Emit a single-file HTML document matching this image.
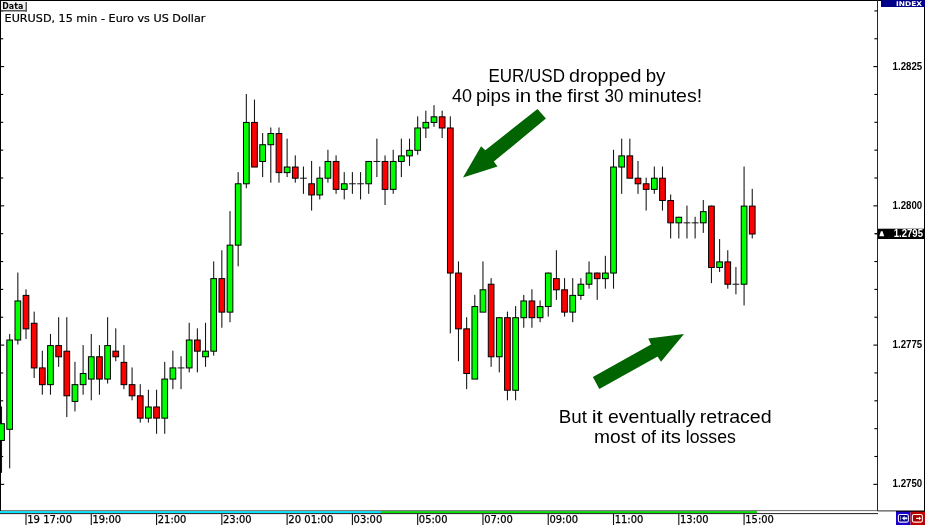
<!DOCTYPE html>
<html lang="en"><head><meta charset="utf-8"><title>EURUSD, 15 min - Euro vs US Dollar</title>
<style>
html,body{margin:0;padding:0;background:#fff;}
body{width:925px;height:525px;overflow:hidden;position:relative;}
svg{position:absolute;left:0;top:0;display:block;}
text{font-family:"Liberation Sans","DejaVu Sans",sans-serif;}
.ax{font-family:"DejaVu Sans","Liberation Sans",sans-serif;font-size:9.8px;fill:#000;stroke:#000;stroke-width:0.25px;}
.pr{font-family:"Liberation Sans","DejaVu Sans",sans-serif;font-size:10.3px;font-weight:bold;fill:#000;}
.note{font-family:"Liberation Sans","DejaVu Sans",sans-serif;font-size:18.9px;fill:#000;}
</style></head><body>
<svg width="925" height="525" viewBox="0 0 925 525">
<rect x="0" y="0" width="925" height="525" fill="#ffffff"/>
<g id="frame" shape-rendering="crispEdges">
<rect x="0" y="0" width="925" height="1" fill="#000"/>
<rect x="0" y="0" width="1" height="511" fill="#000"/>
<rect x="924" y="0" width="1" height="512" fill="#000"/>
<rect x="877" y="0" width="1" height="514" fill="#262626"/>
</g>
<g id="ticks">
<rect x="874.4" y="10.35" width="2.9" height="1.1" fill="#000"/>
<rect x="1" y="10.35" width="2.2" height="1.1" fill="#000"/>
<rect x="874.4" y="38.20" width="2.9" height="1.1" fill="#000"/>
<rect x="1" y="38.20" width="2.2" height="1.1" fill="#000"/>
<rect x="873.4" y="66.05" width="3.9" height="1.1" fill="#000"/>
<rect x="1" y="66.05" width="3.2" height="1.1" fill="#000"/>
<rect x="874.4" y="93.90" width="2.9" height="1.1" fill="#000"/>
<rect x="1" y="93.90" width="2.2" height="1.1" fill="#000"/>
<rect x="874.4" y="121.75" width="2.9" height="1.1" fill="#000"/>
<rect x="1" y="121.75" width="2.2" height="1.1" fill="#000"/>
<rect x="874.4" y="149.60" width="2.9" height="1.1" fill="#000"/>
<rect x="1" y="149.60" width="2.2" height="1.1" fill="#000"/>
<rect x="874.4" y="177.45" width="2.9" height="1.1" fill="#000"/>
<rect x="1" y="177.45" width="2.2" height="1.1" fill="#000"/>
<rect x="873.4" y="205.30" width="3.9" height="1.1" fill="#000"/>
<rect x="1" y="205.30" width="3.2" height="1.1" fill="#000"/>
<rect x="874.4" y="233.15" width="2.9" height="1.1" fill="#000"/>
<rect x="1" y="233.15" width="2.2" height="1.1" fill="#000"/>
<rect x="874.4" y="261.00" width="2.9" height="1.1" fill="#000"/>
<rect x="1" y="261.00" width="2.2" height="1.1" fill="#000"/>
<rect x="874.4" y="288.85" width="2.9" height="1.1" fill="#000"/>
<rect x="1" y="288.85" width="2.2" height="1.1" fill="#000"/>
<rect x="874.4" y="316.70" width="2.9" height="1.1" fill="#000"/>
<rect x="1" y="316.70" width="2.2" height="1.1" fill="#000"/>
<rect x="873.4" y="344.55" width="3.9" height="1.1" fill="#000"/>
<rect x="1" y="344.55" width="3.2" height="1.1" fill="#000"/>
<rect x="874.4" y="372.40" width="2.9" height="1.1" fill="#000"/>
<rect x="1" y="372.40" width="2.2" height="1.1" fill="#000"/>
<rect x="874.4" y="400.25" width="2.9" height="1.1" fill="#000"/>
<rect x="1" y="400.25" width="2.2" height="1.1" fill="#000"/>
<rect x="874.4" y="428.10" width="2.9" height="1.1" fill="#000"/>
<rect x="1" y="428.10" width="2.2" height="1.1" fill="#000"/>
<rect x="874.4" y="455.95" width="2.9" height="1.1" fill="#000"/>
<rect x="1" y="455.95" width="2.2" height="1.1" fill="#000"/>
<rect x="873.4" y="483.80" width="3.9" height="1.1" fill="#000"/>
<rect x="1" y="483.80" width="3.2" height="1.1" fill="#000"/>
</g>
<g id="candles">
<rect x="0.99" y="406.48" width="1.06" height="66.36" fill="#141414"/>
<rect x="-1.33" y="423.72" width="5.7" height="16.74" fill="#00ff00" stroke="#000" stroke-width="1"/>
<rect x="9.15" y="333.94" width="1.06" height="134.44" fill="#141414"/>
<rect x="6.83" y="340.02" width="5.7" height="89.28" fill="#00ff00" stroke="#000" stroke-width="1"/>
<rect x="17.31" y="272.56" width="1.06" height="71.94" fill="#141414"/>
<rect x="14.99" y="300.96" width="5.7" height="39.06" fill="#00ff00" stroke="#000" stroke-width="1"/>
<rect x="25.47" y="289.30" width="1.06" height="49.62" fill="#141414"/>
<rect x="23.15" y="295.38" width="5.7" height="33.48" fill="#ff0000" stroke="#000" stroke-width="1"/>
<rect x="33.63" y="311.62" width="1.06" height="66.36" fill="#141414"/>
<rect x="31.31" y="323.28" width="5.7" height="44.64" fill="#ff0000" stroke="#000" stroke-width="1"/>
<rect x="41.79" y="350.68" width="1.06" height="44.04" fill="#141414"/>
<rect x="39.47" y="367.92" width="5.7" height="16.74" fill="#ff0000" stroke="#000" stroke-width="1"/>
<rect x="49.95" y="333.94" width="1.06" height="60.78" fill="#141414"/>
<rect x="47.63" y="345.60" width="5.7" height="39.06" fill="#00ff00" stroke="#000" stroke-width="1"/>
<rect x="58.11" y="317.20" width="1.06" height="49.62" fill="#141414"/>
<rect x="55.79" y="345.60" width="5.7" height="11.16" fill="#ff0000" stroke="#000" stroke-width="1"/>
<rect x="66.27" y="317.20" width="1.06" height="99.84" fill="#141414"/>
<rect x="63.95" y="351.18" width="5.7" height="44.64" fill="#ff0000" stroke="#000" stroke-width="1"/>
<rect x="74.43" y="361.84" width="1.06" height="49.62" fill="#141414"/>
<rect x="72.11" y="384.66" width="5.7" height="16.74" fill="#00ff00" stroke="#000" stroke-width="1"/>
<rect x="82.59" y="345.10" width="1.06" height="49.62" fill="#141414"/>
<rect x="80.27" y="373.50" width="5.7" height="11.16" fill="#00ff00" stroke="#000" stroke-width="1"/>
<rect x="90.75" y="333.94" width="1.06" height="66.36" fill="#141414"/>
<rect x="88.43" y="356.76" width="5.7" height="22.32" fill="#00ff00" stroke="#000" stroke-width="1"/>
<rect x="98.91" y="345.10" width="1.06" height="49.62" fill="#141414"/>
<rect x="96.59" y="356.76" width="5.7" height="22.32" fill="#ff0000" stroke="#000" stroke-width="1"/>
<rect x="107.07" y="317.20" width="1.06" height="66.36" fill="#141414"/>
<rect x="104.75" y="345.60" width="5.7" height="33.48" fill="#00ff00" stroke="#000" stroke-width="1"/>
<rect x="115.23" y="328.36" width="1.06" height="32.88" fill="#141414"/>
<rect x="112.91" y="351.18" width="5.7" height="5.58" fill="#ff0000" stroke="#000" stroke-width="1"/>
<rect x="123.39" y="345.10" width="1.06" height="44.04" fill="#141414"/>
<rect x="121.07" y="362.34" width="5.7" height="22.32" fill="#ff0000" stroke="#000" stroke-width="1"/>
<rect x="131.55" y="367.42" width="1.06" height="32.88" fill="#141414"/>
<rect x="129.23" y="384.66" width="5.7" height="11.16" fill="#ff0000" stroke="#000" stroke-width="1"/>
<rect x="139.71" y="384.16" width="1.06" height="38.46" fill="#141414"/>
<rect x="137.39" y="395.82" width="5.7" height="22.32" fill="#ff0000" stroke="#000" stroke-width="1"/>
<rect x="147.87" y="389.74" width="1.06" height="32.88" fill="#141414"/>
<rect x="145.55" y="406.98" width="5.7" height="11.16" fill="#00ff00" stroke="#000" stroke-width="1"/>
<rect x="156.03" y="389.74" width="1.06" height="44.04" fill="#141414"/>
<rect x="153.71" y="406.98" width="5.7" height="11.16" fill="#ff0000" stroke="#000" stroke-width="1"/>
<rect x="164.19" y="361.84" width="1.06" height="71.94" fill="#141414"/>
<rect x="161.87" y="379.08" width="5.7" height="39.06" fill="#00ff00" stroke="#000" stroke-width="1"/>
<rect x="172.35" y="350.68" width="1.06" height="38.46" fill="#141414"/>
<rect x="170.03" y="367.92" width="5.7" height="11.16" fill="#00ff00" stroke="#000" stroke-width="1"/>
<rect x="180.51" y="356.26" width="1.06" height="32.88" fill="#141414"/>
<rect x="177.64" y="367.42" width="6.8" height="1" fill="#141414"/>
<rect x="188.67" y="322.78" width="1.06" height="49.62" fill="#141414"/>
<rect x="186.35" y="340.02" width="5.7" height="27.90" fill="#00ff00" stroke="#000" stroke-width="1"/>
<rect x="196.83" y="328.36" width="1.06" height="44.04" fill="#141414"/>
<rect x="194.51" y="340.02" width="5.7" height="11.16" fill="#ff0000" stroke="#000" stroke-width="1"/>
<rect x="204.99" y="322.78" width="1.06" height="44.04" fill="#141414"/>
<rect x="202.67" y="351.18" width="5.7" height="5.58" fill="#00ff00" stroke="#000" stroke-width="1"/>
<rect x="213.15" y="261.40" width="1.06" height="94.26" fill="#141414"/>
<rect x="210.83" y="278.64" width="5.7" height="72.54" fill="#00ff00" stroke="#000" stroke-width="1"/>
<rect x="221.31" y="250.24" width="1.06" height="77.52" fill="#141414"/>
<rect x="218.99" y="278.64" width="5.7" height="33.48" fill="#ff0000" stroke="#000" stroke-width="1"/>
<rect x="229.47" y="211.18" width="1.06" height="111.00" fill="#141414"/>
<rect x="227.15" y="245.16" width="5.7" height="66.96" fill="#00ff00" stroke="#000" stroke-width="1"/>
<rect x="237.63" y="172.12" width="1.06" height="94.26" fill="#141414"/>
<rect x="235.31" y="183.78" width="5.7" height="61.38" fill="#00ff00" stroke="#000" stroke-width="1"/>
<rect x="245.79" y="94.00" width="1.06" height="94.26" fill="#141414"/>
<rect x="243.47" y="122.40" width="5.7" height="61.38" fill="#00ff00" stroke="#000" stroke-width="1"/>
<rect x="253.95" y="99.58" width="1.06" height="66.36" fill="#141414"/>
<rect x="251.63" y="122.40" width="5.7" height="44.64" fill="#ff0000" stroke="#000" stroke-width="1"/>
<rect x="262.11" y="133.06" width="1.06" height="44.04" fill="#141414"/>
<rect x="259.79" y="144.72" width="5.7" height="16.74" fill="#00ff00" stroke="#000" stroke-width="1"/>
<rect x="270.27" y="127.48" width="1.06" height="55.20" fill="#141414"/>
<rect x="267.95" y="133.56" width="5.7" height="11.16" fill="#00ff00" stroke="#000" stroke-width="1"/>
<rect x="278.43" y="127.48" width="1.06" height="55.20" fill="#141414"/>
<rect x="276.11" y="133.56" width="5.7" height="39.06" fill="#ff0000" stroke="#000" stroke-width="1"/>
<rect x="286.59" y="138.64" width="1.06" height="38.46" fill="#141414"/>
<rect x="284.27" y="167.04" width="5.7" height="5.58" fill="#00ff00" stroke="#000" stroke-width="1"/>
<rect x="294.75" y="155.38" width="1.06" height="27.30" fill="#141414"/>
<rect x="292.43" y="167.04" width="5.7" height="11.16" fill="#ff0000" stroke="#000" stroke-width="1"/>
<rect x="302.91" y="166.54" width="1.06" height="27.30" fill="#141414"/>
<rect x="300.04" y="177.70" width="6.8" height="1" fill="#141414"/>
<rect x="311.07" y="160.96" width="1.06" height="49.62" fill="#141414"/>
<rect x="308.75" y="183.78" width="5.7" height="11.16" fill="#ff0000" stroke="#000" stroke-width="1"/>
<rect x="319.23" y="166.54" width="1.06" height="32.88" fill="#141414"/>
<rect x="316.91" y="178.20" width="5.7" height="16.74" fill="#00ff00" stroke="#000" stroke-width="1"/>
<rect x="327.39" y="149.80" width="1.06" height="32.88" fill="#141414"/>
<rect x="325.07" y="161.46" width="5.7" height="16.74" fill="#00ff00" stroke="#000" stroke-width="1"/>
<rect x="335.55" y="155.38" width="1.06" height="38.46" fill="#141414"/>
<rect x="333.23" y="161.46" width="5.7" height="27.90" fill="#ff0000" stroke="#000" stroke-width="1"/>
<rect x="343.71" y="172.12" width="1.06" height="27.30" fill="#141414"/>
<rect x="341.39" y="183.78" width="5.7" height="5.58" fill="#00ff00" stroke="#000" stroke-width="1"/>
<rect x="351.87" y="172.12" width="1.06" height="21.72" fill="#141414"/>
<rect x="349.00" y="183.28" width="6.8" height="1" fill="#141414"/>
<rect x="360.03" y="172.12" width="1.06" height="27.30" fill="#141414"/>
<rect x="357.16" y="183.28" width="6.8" height="1" fill="#141414"/>
<rect x="368.19" y="160.96" width="1.06" height="32.88" fill="#141414"/>
<rect x="365.87" y="161.46" width="5.7" height="22.32" fill="#00ff00" stroke="#000" stroke-width="1"/>
<rect x="376.35" y="138.64" width="1.06" height="38.46" fill="#141414"/>
<rect x="373.48" y="160.96" width="6.8" height="1" fill="#141414"/>
<rect x="384.51" y="155.38" width="1.06" height="49.62" fill="#141414"/>
<rect x="382.19" y="161.46" width="5.7" height="27.90" fill="#ff0000" stroke="#000" stroke-width="1"/>
<rect x="392.67" y="149.80" width="1.06" height="44.04" fill="#141414"/>
<rect x="390.35" y="161.46" width="5.7" height="27.90" fill="#00ff00" stroke="#000" stroke-width="1"/>
<rect x="400.83" y="138.64" width="1.06" height="38.46" fill="#141414"/>
<rect x="398.51" y="155.88" width="5.7" height="5.58" fill="#00ff00" stroke="#000" stroke-width="1"/>
<rect x="408.99" y="138.64" width="1.06" height="27.30" fill="#141414"/>
<rect x="406.67" y="150.30" width="5.7" height="5.58" fill="#00ff00" stroke="#000" stroke-width="1"/>
<rect x="417.15" y="116.32" width="1.06" height="38.46" fill="#141414"/>
<rect x="414.83" y="127.98" width="5.7" height="22.32" fill="#00ff00" stroke="#000" stroke-width="1"/>
<rect x="425.31" y="110.74" width="1.06" height="27.30" fill="#141414"/>
<rect x="422.99" y="122.40" width="5.7" height="5.58" fill="#00ff00" stroke="#000" stroke-width="1"/>
<rect x="433.47" y="105.16" width="1.06" height="21.72" fill="#141414"/>
<rect x="431.15" y="116.82" width="5.7" height="5.58" fill="#00ff00" stroke="#000" stroke-width="1"/>
<rect x="441.63" y="110.74" width="1.06" height="27.30" fill="#141414"/>
<rect x="439.31" y="116.82" width="5.7" height="11.16" fill="#ff0000" stroke="#000" stroke-width="1"/>
<rect x="449.79" y="116.32" width="1.06" height="217.02" fill="#141414"/>
<rect x="447.47" y="127.98" width="5.7" height="145.08" fill="#ff0000" stroke="#000" stroke-width="1"/>
<rect x="457.95" y="261.40" width="1.06" height="99.84" fill="#141414"/>
<rect x="455.63" y="273.06" width="5.7" height="55.80" fill="#ff0000" stroke="#000" stroke-width="1"/>
<rect x="466.11" y="317.20" width="1.06" height="71.94" fill="#141414"/>
<rect x="463.79" y="328.86" width="5.7" height="44.64" fill="#ff0000" stroke="#000" stroke-width="1"/>
<rect x="474.27" y="294.88" width="1.06" height="83.10" fill="#141414"/>
<rect x="471.95" y="306.54" width="5.7" height="72.54" fill="#00ff00" stroke="#000" stroke-width="1"/>
<rect x="482.43" y="261.40" width="1.06" height="49.62" fill="#141414"/>
<rect x="480.11" y="289.80" width="5.7" height="22.32" fill="#00ff00" stroke="#000" stroke-width="1"/>
<rect x="490.59" y="278.14" width="1.06" height="88.68" fill="#141414"/>
<rect x="488.27" y="284.22" width="5.7" height="72.54" fill="#ff0000" stroke="#000" stroke-width="1"/>
<rect x="498.75" y="317.20" width="1.06" height="55.20" fill="#141414"/>
<rect x="496.43" y="317.70" width="5.7" height="39.06" fill="#00ff00" stroke="#000" stroke-width="1"/>
<rect x="506.91" y="311.62" width="1.06" height="88.68" fill="#141414"/>
<rect x="504.59" y="317.70" width="5.7" height="72.54" fill="#ff0000" stroke="#000" stroke-width="1"/>
<rect x="515.07" y="306.04" width="1.06" height="94.26" fill="#141414"/>
<rect x="512.75" y="317.70" width="5.7" height="72.54" fill="#00ff00" stroke="#000" stroke-width="1"/>
<rect x="523.23" y="294.88" width="1.06" height="32.88" fill="#141414"/>
<rect x="520.91" y="300.96" width="5.7" height="16.74" fill="#00ff00" stroke="#000" stroke-width="1"/>
<rect x="531.39" y="289.30" width="1.06" height="38.46" fill="#141414"/>
<rect x="529.07" y="300.96" width="5.7" height="16.74" fill="#ff0000" stroke="#000" stroke-width="1"/>
<rect x="539.55" y="300.46" width="1.06" height="21.72" fill="#141414"/>
<rect x="537.23" y="306.54" width="5.7" height="11.16" fill="#00ff00" stroke="#000" stroke-width="1"/>
<rect x="547.71" y="272.56" width="1.06" height="44.04" fill="#141414"/>
<rect x="545.39" y="273.06" width="5.7" height="33.48" fill="#00ff00" stroke="#000" stroke-width="1"/>
<rect x="555.87" y="250.24" width="1.06" height="49.62" fill="#141414"/>
<rect x="553.55" y="278.64" width="5.7" height="11.16" fill="#ff0000" stroke="#000" stroke-width="1"/>
<rect x="564.03" y="278.14" width="1.06" height="38.46" fill="#141414"/>
<rect x="561.71" y="289.80" width="5.7" height="22.32" fill="#ff0000" stroke="#000" stroke-width="1"/>
<rect x="572.19" y="278.14" width="1.06" height="44.04" fill="#141414"/>
<rect x="569.87" y="295.38" width="5.7" height="16.74" fill="#00ff00" stroke="#000" stroke-width="1"/>
<rect x="580.35" y="278.14" width="1.06" height="21.72" fill="#141414"/>
<rect x="578.03" y="284.22" width="5.7" height="11.16" fill="#00ff00" stroke="#000" stroke-width="1"/>
<rect x="588.51" y="261.40" width="1.06" height="27.30" fill="#141414"/>
<rect x="586.19" y="273.06" width="5.7" height="11.16" fill="#00ff00" stroke="#000" stroke-width="1"/>
<rect x="596.67" y="272.56" width="1.06" height="27.30" fill="#141414"/>
<rect x="594.35" y="273.06" width="5.7" height="5.58" fill="#ff0000" stroke="#000" stroke-width="1"/>
<rect x="604.83" y="255.82" width="1.06" height="32.88" fill="#141414"/>
<rect x="602.51" y="273.06" width="5.7" height="5.58" fill="#00ff00" stroke="#000" stroke-width="1"/>
<rect x="612.99" y="149.80" width="1.06" height="138.90" fill="#141414"/>
<rect x="610.67" y="167.04" width="5.7" height="106.02" fill="#00ff00" stroke="#000" stroke-width="1"/>
<rect x="621.15" y="138.64" width="1.06" height="55.20" fill="#141414"/>
<rect x="618.83" y="155.88" width="5.7" height="11.16" fill="#00ff00" stroke="#000" stroke-width="1"/>
<rect x="629.31" y="138.64" width="1.06" height="38.46" fill="#141414"/>
<rect x="626.99" y="155.88" width="5.7" height="22.32" fill="#ff0000" stroke="#000" stroke-width="1"/>
<rect x="637.47" y="160.96" width="1.06" height="32.88" fill="#141414"/>
<rect x="635.15" y="178.20" width="5.7" height="5.58" fill="#ff0000" stroke="#000" stroke-width="1"/>
<rect x="645.63" y="177.70" width="1.06" height="32.88" fill="#141414"/>
<rect x="643.31" y="183.78" width="5.7" height="5.58" fill="#ff0000" stroke="#000" stroke-width="1"/>
<rect x="653.79" y="166.54" width="1.06" height="27.30" fill="#141414"/>
<rect x="651.47" y="178.20" width="5.7" height="11.16" fill="#00ff00" stroke="#000" stroke-width="1"/>
<rect x="661.95" y="166.54" width="1.06" height="44.04" fill="#141414"/>
<rect x="659.63" y="178.20" width="5.7" height="22.32" fill="#ff0000" stroke="#000" stroke-width="1"/>
<rect x="670.11" y="194.44" width="1.06" height="44.04" fill="#141414"/>
<rect x="667.79" y="200.52" width="5.7" height="22.32" fill="#ff0000" stroke="#000" stroke-width="1"/>
<rect x="678.27" y="216.76" width="1.06" height="21.72" fill="#141414"/>
<rect x="675.95" y="217.26" width="5.7" height="5.58" fill="#00ff00" stroke="#000" stroke-width="1"/>
<rect x="686.43" y="205.60" width="1.06" height="32.88" fill="#141414"/>
<rect x="683.56" y="222.34" width="6.8" height="1" fill="#141414"/>
<rect x="694.59" y="216.76" width="1.06" height="21.72" fill="#141414"/>
<rect x="691.72" y="222.34" width="6.8" height="1" fill="#141414"/>
<rect x="702.75" y="200.02" width="1.06" height="32.88" fill="#141414"/>
<rect x="700.43" y="211.68" width="5.7" height="11.16" fill="#00ff00" stroke="#000" stroke-width="1"/>
<rect x="710.91" y="205.60" width="1.06" height="77.52" fill="#141414"/>
<rect x="708.59" y="206.10" width="5.7" height="61.38" fill="#ff0000" stroke="#000" stroke-width="1"/>
<rect x="719.07" y="239.08" width="1.06" height="32.88" fill="#141414"/>
<rect x="716.75" y="261.90" width="5.7" height="5.58" fill="#00ff00" stroke="#000" stroke-width="1"/>
<rect x="727.23" y="250.24" width="1.06" height="38.46" fill="#141414"/>
<rect x="724.91" y="261.90" width="5.7" height="22.32" fill="#ff0000" stroke="#000" stroke-width="1"/>
<rect x="735.39" y="266.98" width="1.06" height="27.30" fill="#141414"/>
<rect x="732.52" y="283.72" width="6.8" height="1" fill="#141414"/>
<rect x="743.55" y="166.54" width="1.06" height="138.90" fill="#141414"/>
<rect x="741.23" y="206.10" width="5.7" height="78.12" fill="#00ff00" stroke="#000" stroke-width="1"/>
<rect x="751.71" y="188.86" width="1.06" height="49.62" fill="#141414"/>
<rect x="749.39" y="206.10" width="5.7" height="27.90" fill="#ff0000" stroke="#000" stroke-width="1"/>
</g>
<g id="baxis">
<rect x="0" y="510.4" width="925" height="1.0" fill="#2a2a2a"/>
<rect x="0" y="511.2" width="381" height="2" fill="#00e5ff"/>
<rect x="381" y="511.2" width="376" height="2" fill="#00dd00"/>
<rect x="757" y="511.2" width="121" height="2" fill="#fff"/>
<rect x="0" y="513.1" width="878" height="1" fill="#222"/>
<rect x="25.45" y="514" width="1.1" height="11" fill="#111"/>
<text class="ax" x="27.20" y="523.3" textLength="45.0" lengthAdjust="spacingAndGlyphs">19 17:00</text>
<rect x="90.73" y="514" width="1.1" height="11" fill="#111"/>
<text class="ax" x="92.48" y="523.3" textLength="28.6" lengthAdjust="spacingAndGlyphs">19:00</text>
<rect x="156.01" y="514" width="1.1" height="11" fill="#111"/>
<text class="ax" x="157.76" y="523.3" textLength="28.6" lengthAdjust="spacingAndGlyphs">21:00</text>
<rect x="221.29" y="514" width="1.1" height="11" fill="#111"/>
<text class="ax" x="223.04" y="523.3" textLength="28.6" lengthAdjust="spacingAndGlyphs">23:00</text>
<rect x="286.57" y="514" width="1.1" height="11" fill="#111"/>
<text class="ax" x="288.32" y="523.3" textLength="45.0" lengthAdjust="spacingAndGlyphs">20 01:00</text>
<rect x="351.85" y="514" width="1.1" height="11" fill="#111"/>
<text class="ax" x="353.60" y="523.3" textLength="28.6" lengthAdjust="spacingAndGlyphs">03:00</text>
<rect x="417.13" y="514" width="1.1" height="11" fill="#111"/>
<text class="ax" x="418.88" y="523.3" textLength="28.6" lengthAdjust="spacingAndGlyphs">05:00</text>
<rect x="482.41" y="514" width="1.1" height="11" fill="#111"/>
<text class="ax" x="484.16" y="523.3" textLength="28.6" lengthAdjust="spacingAndGlyphs">07:00</text>
<rect x="547.69" y="514" width="1.1" height="11" fill="#111"/>
<text class="ax" x="549.44" y="523.3" textLength="28.6" lengthAdjust="spacingAndGlyphs">09:00</text>
<rect x="612.97" y="514" width="1.1" height="11" fill="#111"/>
<text class="ax" x="614.72" y="523.3" textLength="28.6" lengthAdjust="spacingAndGlyphs">11:00</text>
<rect x="678.25" y="514" width="1.1" height="11" fill="#111"/>
<text class="ax" x="680.00" y="523.3" textLength="28.6" lengthAdjust="spacingAndGlyphs">13:00</text>
<rect x="743.53" y="514" width="1.1" height="11" fill="#111"/>
<text class="ax" x="745.28" y="523.3" textLength="28.6" lengthAdjust="spacingAndGlyphs">15:00</text>
</g>
<g id="prices">
<text class="pr" x="892.6" y="69.50" textLength="29.6" lengthAdjust="spacingAndGlyphs">1.2825</text>
<text class="pr" x="892.6" y="208.75" textLength="29.6" lengthAdjust="spacingAndGlyphs">1.2800</text>
<text class="pr" x="892.6" y="348.00" textLength="29.6" lengthAdjust="spacingAndGlyphs">1.2775</text>
<text class="pr" x="892.6" y="487.25" textLength="29.6" lengthAdjust="spacingAndGlyphs">1.2750</text>
<rect x="878" y="228.70" width="46.5" height="10.3" fill="#000"/>
<rect x="875" y="233.20" width="3" height="1" fill="#000"/>
<path d="M879.3 236.30 L884.2 236.30 L882.6 231.30 L880.9 231.30 Z" fill="#fff"/>
<text class="pr" x="893.7" y="236.90" textLength="29.3" lengthAdjust="spacingAndGlyphs" style="fill:#fff">1.2795</text>
</g>
<g id="title">
<rect x="25" y="2" width="2" height="9.5" fill="#555"/>
<rect x="1.5" y="9.8" width="25.5" height="1.7" fill="#555"/>
<rect x="1" y="1" width="24.5" height="9" fill="#f0f0f0"/>
<text x="2.3" y="8.9" style="font-family:'DejaVu Sans','Liberation Sans',sans-serif;font-size:9.3px;font-weight:bold" textLength="21" lengthAdjust="spacingAndGlyphs">Data</text>
<text x="4.6" y="22.3" style="font-family:'DejaVu Sans','Liberation Sans',sans-serif;font-size:10.8px;stroke:#000;stroke-width:0.2px" textLength="200.8" lengthAdjust="spacingAndGlyphs">EURUSD, 15 min - Euro vs US Dollar</text>
</g>
<g id="index">
<rect x="881" y="0" width="44" height="7" fill="#00008b"/>
<text x="896" y="6" style="font-family:'DejaVu Sans','Liberation Sans',sans-serif;font-size:6.5px;font-weight:bold;fill:#fff" textLength="26" lengthAdjust="spacingAndGlyphs">INDEX</text>
</g>
<g id="icons">
<rect x="896" y="511" width="29" height="1" fill="#000"/>
<rect x="896" y="511.7" width="14.5" height="13.3" fill="#1a00c8"/>
<rect x="910.5" y="511.7" width="14.5" height="13.3" fill="#c00000"/>
<rect x="898.4" y="514.5" width="10" height="7.6" rx="1.5" fill="#00008a" stroke="#f0ecff" stroke-width="1.1"/>
<rect x="912.4" y="514.5" width="10" height="7.6" rx="1.5" fill="#a80000" stroke="#fff0ec" stroke-width="1.1"/>
<path d="M900.6 516.2v4.2M902.2 518.3l2.2-1.8v1.2h2.6v1.2h-2.6v1.2z" fill="#fff" stroke="#dcdcff" stroke-width="0.7"/>
<path d="M916.2 517.7h2.8v-1.3l2.2 1.9-2.2 1.9v-1.3h-2.8z" fill="#fff"/>
</g>
<g id="arrows" fill="#006400">
<polygon points="537.5,108.9 545.9,118.6 493.8,161.6 497.5,166.5 463,177.5 481.1,146.2 485.3,150.2"/>
<polygon points="592.9,377.1 599.3,388.9 657.6,356.4 661,361.7 684,334 648.3,338.6 651,344.6"/>
</g>
<g id="notes" class="note">
<text transform="translate(488.50 81.50) scale(0.8994 1)">EUR/USD</text> <text transform="translate(569.07 81.50) scale(1.0454 1)">dropped</text> <text transform="translate(645.71 81.50) scale(0.9892 1)">by</text>
<text transform="translate(451.97 101.70) scale(0.9519 1)">40</text> <text transform="translate(475.91 101.70) scale(0.9954 1)">pips</text> <text transform="translate(515.19 101.70) scale(1.0857 1)">in</text> <text transform="translate(535.59 101.70) scale(1.0257 1)">the</text> <text transform="translate(567.29 101.70) scale(1.0400 1)">first</text> <text transform="translate(604.58 101.70) scale(0.8974 1)">30</text> <text transform="translate(628.25 101.70) scale(1.0365 1)">minutes!</text>
<text transform="translate(558.76 423.00) scale(0.9944 1)">But</text> <text transform="translate(591.68 423.00) scale(1.1750 1)">it</text> <text transform="translate(608.08 423.00) scale(1.0267 1)">eventually</text> <text transform="translate(699.75 423.00) scale(1.0382 1)">retraced</text>
<text transform="translate(593.98 443.00) scale(1.0152 1)">most</text> <text transform="translate(641.03 443.00) scale(0.9533 1)">of</text> <text transform="translate(660.70 443.00) scale(1.0765 1)">its</text> <text transform="translate(685.78 443.00) scale(0.9353 1)">losses</text>
</g>
</svg>
</body></html>
